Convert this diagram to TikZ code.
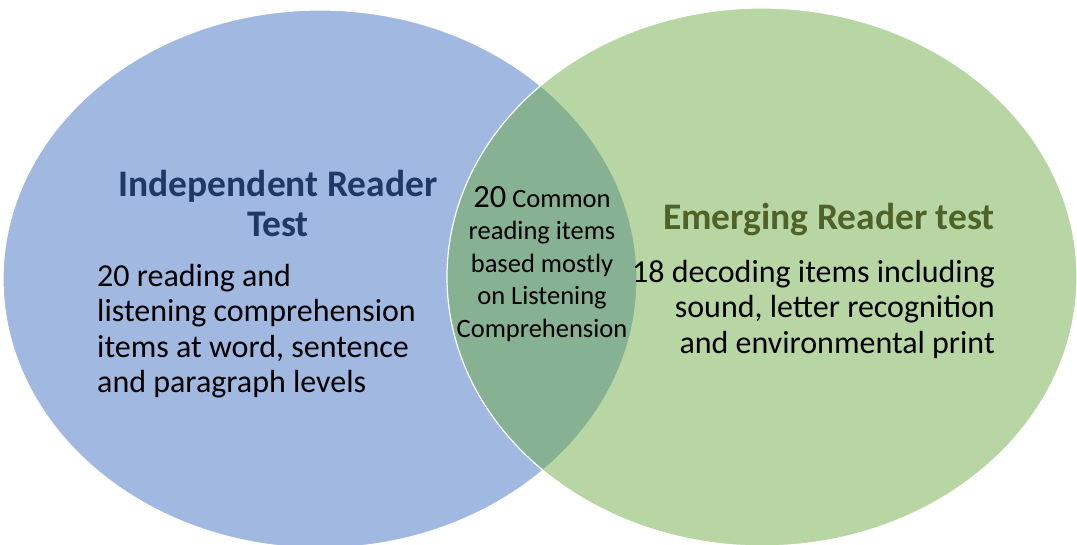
\documentclass[tikz,border=0pt]{standalone}
\usepackage{fontspec}
\setmainfont{Carlito}
\definecolor{indepblue}{RGB}{161,185,224}
\definecolor{emerggreen}{RGB}{107,169,65}
\definecolor{indeptitle}{RGB}{31,56,100}
\definecolor{emergtitle}{RGB}{79,98,40}
\tikzset{
  titletext/.style={font=\fontsize{37.5}{40}\selectfont\bfseries},
  bodytext/.style={font=\fontsize{32}{35.5}\selectfont, inner sep=0pt},
}
\begin{document}
\begin{tikzpicture}[x=1pt, y=-1pt]
    \useasboundingbox (0, 0) rectangle (1077, 545);

    % the two sets
    \draw [fill=indepblue, draw=white, line width=1.2pt] (320, 279) ellipse [x radius=317pt, y radius=269pt];
    \draw [fill=emerggreen, fill opacity=0.48, draw=white, line width=1.2pt] (762, 277) ellipse [x radius=315pt, y radius=269pt];

    % left set
    \node (indeptitle) [titletext, text=indeptitle, align=center] at (278, 203) {Independent Reader\\Test};
    \node (indepbody) [bodytext, align=left, anchor=west] at (97, 331) {20 reading and\\listening comprehension\\items at word, sentence\\and paragraph levels};

    % overlap
    \node (common) [font=\fontsize{26.5}{32.5}\selectfont, align=center, inner sep=0pt] at (542, 264)
        {{\fontsize{32.5}{32.5}\selectfont 20} Common\\reading items\\based mostly\\on Listening\\Comprehension};

    % right set
    \node (emergtitle) [titletext, text=emergtitle, anchor=east, inner sep=0pt] at (995, 220) {Emerging Reader test};
    \node (emergbody) [bodytext, align=right, anchor=east] at (995, 309) {18 decoding items including\\sound, letter recognition\\and environmental print};
\end{tikzpicture}
\end{document}
